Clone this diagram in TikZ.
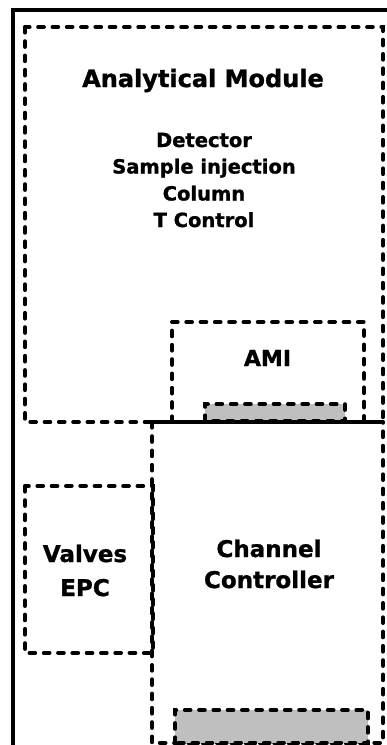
\documentclass[tikz,border=0pt]{standalone}
\usepackage{fontspec}
\setmainfont{DejaVu Sans}[BoldFeatures={FakeBold=1.2}]
\begin{document}
\begin{tikzpicture}[x=1pt,y=-1pt,
  dbox/.style={draw=black, line width=4.2pt, dash pattern=on 5.5pt off 8.8pt, line cap=round},
  gbar/.style={dbox, fill=black!25},
  lbl/.style={font=\bfseries, anchor=base, inner sep=0pt}]
\useasboundingbox (0,0) rectangle (387,745);
\clip (0,0) rectangle (387,745);
\fill[white] (0,0) rectangle (387,745);
% outer frame
\draw[line width=4.5pt] (13,10) rectangle (430,790);
% Analytical module
\draw[dbox] (25,27) rectangle (383,422);
% AMI
\draw[dbox] (172,422) -- (172,322) -- (364,322) -- (364,422);
\draw[gbar] (205,421) rectangle (345,404);
% Channel controller
\draw[dbox] (152,422) -- (152,743) -- (383,743) -- (383,422);
\draw[gbar] (175,743) rectangle (368,710);
\draw[line width=3.5pt] (152,422) -- (383,422);
% Valves EPC
\draw[dbox] (25,486) rectangle (153,653);
% texts
\node[lbl, font=\bfseries\fontsize{24}{28}\selectfont] (am) at (203,87) {Analytical Module};
\node[lbl, font=\bfseries\fontsize{19.5}{23}\selectfont] (det) at (204,147) {Detector};
\node[lbl, font=\bfseries\fontsize{19.5}{23}\selectfont] (si) at (204,173.5) {Sample injection};
\node[lbl, font=\bfseries\fontsize{19.5}{23}\selectfont] (col) at (204,200.5) {Column};
\node[lbl, font=\bfseries\fontsize{19.5}{23}\selectfont] (tc) at (204,227) {T Control};
\node[lbl, font=\bfseries\fontsize{22}{26}\selectfont] (ami) at (267.5,366) {AMI};
\node[lbl, font=\bfseries\fontsize{23}{27}\selectfont] (ch) at (269,557) {Channel};
\node[lbl, font=\bfseries\fontsize{23}{27}\selectfont] (ctl) at (269,588) {Controller};
\node[lbl, font=\bfseries\fontsize{23}{27}\selectfont] (va) at (85,562) {Valves};
\node[lbl, font=\bfseries\fontsize{23}{27}\selectfont] (epc) at (85,596) {EPC};
\end{tikzpicture}
\end{document}
